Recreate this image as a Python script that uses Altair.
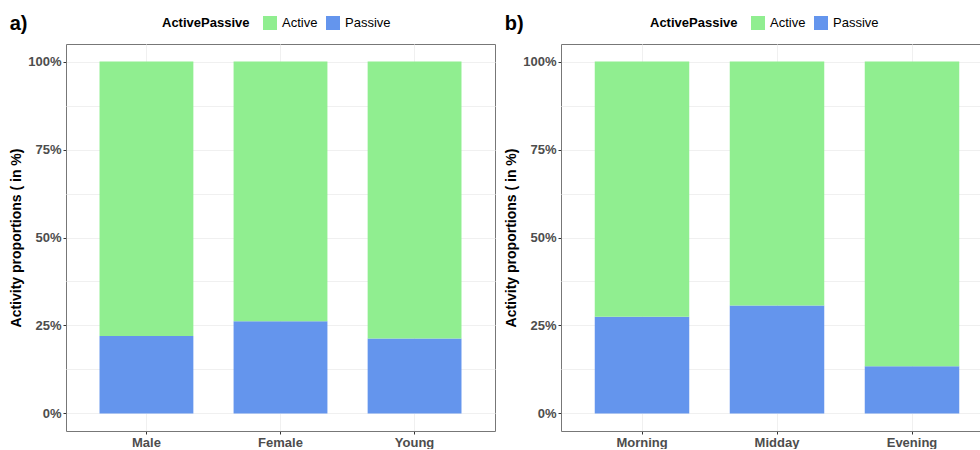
import altair as alt
import pandas as pd

# Share of time spent passive per group; the rest is active
groups_a = ["Male", "Female", "Young"]
passive_a = [0.22, 0.262, 0.213]

groups_b = ["Morning", "Midday", "Evening"]
passive_b = [0.275, 0.307, 0.134]

statuses = ["Active", "Passive"]
palette = ["#90EE90", "#6495ED"]
y_ticks = [0, 0.125, 0.25, 0.375, 0.5, 0.625, 0.75, 0.875, 1.0]

FONT = "Liberation Sans"
GRID = "#F0F0F0"
LABEL = "#4D4D4D"


def table(groups, passive):
    rows = []
    for g, p in zip(groups, passive):
        rows.append({"group": g, "ActivePassive": "Passive", "lo": 0.0, "hi": p})
        rows.append({"group": g, "ActivePassive": "Active", "lo": p, "hi": 1.0})
    return pd.DataFrame(rows)


minor = "datum.value * 100 % 25 != 0"


def panel(letter, groups, passive, width, legend_x):
    return alt.Chart(table(groups, passive)).mark_bar().encode(
        x=alt.X(
            "group:N",
            sort=groups,
            title=None,
            scale=alt.Scale(paddingInner=0.3, paddingOuter=0.25),
            axis=alt.Axis(
                labelAngle=0,
                labelFont=FONT,
                labelFontSize=13,
                labelFontWeight="bold",
                labelColor=LABEL,
                labelPadding=2,
                tickSize=3,
                tickColor="#333333",
                grid=True,
                gridColor=GRID,
                domain=False,
                bandPosition=0.5,
            ),
        ),
        y=alt.Y(
            "hi:Q",
            title="Activity proportions ( in %)",
            scale=alt.Scale(domain=[-0.05, 1.05], nice=False, zero=False),
            axis=alt.Axis(
                values=y_ticks,
                labelExpr=minor + " ? '' : format(datum.value, '.0%')",
                labelFont=FONT,
                labelFontSize=13,
                labelFontWeight="bold",
                labelColor=LABEL,
                labelPadding=2,
                tickSize=3,
                tickColor={"condition": {"test": minor, "value": "transparent"}, "value": "#333333"},
                grid=True,
                gridColor=GRID,
                domain=False,
                titleFont=FONT,
                titleFontSize=14,
                titleFontWeight="bold",
                titleColor="black",
                titlePadding=4,
            ),
        ),
        y2="lo:Q",
        color=alt.Color(
            "ActivePassive:N",
            scale=alt.Scale(domain=statuses, range=palette),
            legend=alt.Legend(
                orient="none",
                legendX=legend_x,
                legendY=-28,
                direction="horizontal",
                titleOrient="left",
                title="ActivePassive",
                titleFont=FONT,
                titleFontSize=13,
                titleFontWeight="bold",
                titleColor="black",
                titlePadding=13,
                labelFont=FONT,
                labelFontSize=13,
                labelColor="black",
                labelOffset=5,
                columnPadding=8,
                symbolType="square",
                symbolSize=196,
                symbolStrokeWidth=0,
                symbolOpacity=1,
            ),
        ),
    ).properties(
        width=width,
        height=387,
        title=alt.TitleParams(
            text=letter,
            anchor="start",
            font=FONT,
            fontSize=20,
            fontWeight="bold",
            color="black",
            offset=-18,
        ),
    )


left = panel("a)", groups_a, passive_a, 429, 96)
right = panel("b)", groups_b, passive_b, 432, 89)

# the right panel runs past the figure's right edge; negative padding crops it there
chart = (
    alt.hconcat(left, right, spacing=8)
    .resolve_scale(color="independent")
    .resolve_legend(color="independent")
    .properties(padding={"left": 9, "top": 13, "right": -14, "bottom": -1})
    .configure_view(stroke="#777777", strokeWidth=1)
)

chart.save("out.html", embed_options={"renderer": "svg", "actions": False})
